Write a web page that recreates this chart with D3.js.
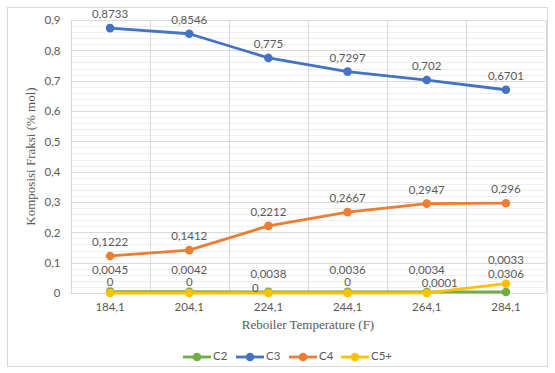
<!DOCTYPE html>
<html>
<head>
<meta charset="utf-8">
<script src="https://cdn.jsdelivr.net/npm/d3@7"></script>
<style>
  html, body { margin: 0; padding: 0; background: #fff; }
  svg { display: block; }
</style>
</head>
<body>
<svg id="chart" width="555" height="373"></svg>
<script>
// Reboiler temperature categories (F)
const temperatures = ["184,1", "204,1", "224,1", "244,1", "264,1", "284,1"];

// Fraction composition (mol fraction) per component
const seriesNames = ["C2", "C3", "C4", "C5+"];
const c2 = [0.0045, 0.0042, 0.0038, 0.0036, 0.0034, 0.0033];
const c3 = [0.8733, 0.8546, 0.775, 0.7297, 0.702, 0.6701];
const c4 = [0.1222, 0.1412, 0.2212, 0.2667, 0.2947, 0.296];
const c5p = [0, 0, 0, 0, 0.0001, 0.0306];

// Value axis ticks
const yTicks = [0, 0.1, 0.2, 0.3, 0.4, 0.5, 0.6, 0.7, 0.8, 0.9];

const colors = { "C2": "#70AD47", "C3": "#4472C4", "C4": "#ED7D31", "C5+": "#FFC000" };
const seriesData = { "C2": c2, "C3": c3, "C4": c4, "C5+": c5p };

// Label placement (dx, dy relative to the point), default per series with a few nudges
const labelDefaults = { "C2": [0, -21], "C3": [0, -13], "C4": [0, -13], "C5+": [0, -10] };
const labelNudges = {
  "C2": { 2: [0, -17], 5: [0, -31] },
  "C5+": { 2: [-13, -4], 4: [13, -9], 5: [0, -9] }
};

const fmt = v => String(+v.toFixed(4)).replace(".", ",");

const svg = d3.select("#chart");
const W = 555, H = 373;
const plot = { left: 70.5, right: 545.5, top: 20, bottom: 293 };

// Chart frame
svg.append("rect")
  .attr("x", 7.5).attr("y", 7.5)
  .attr("width", 540).attr("height", 359)
  .attr("fill", "#fff").attr("stroke", "#d9d9d9").attr("stroke-width", 1);

const x = d3.scaleBand().domain(temperatures).range([plot.left, plot.right]).padding(0);
const y = d3.scaleLinear().domain([0, 0.9]).range([plot.bottom, plot.top]);
const cx = t => x(t) + x.bandwidth() / 2;

const grid = svg.append("g");

// Minor horizontal gridlines
const minor = d3.range(0, 0.9001, 0.02).filter(v => Math.abs(v * 10 - Math.round(v * 10)) > 1e-6);
grid.selectAll("line.minor").data(minor).join("line")
  .attr("x1", plot.left).attr("x2", plot.right)
  .attr("y1", d => Math.round(y(d)) + 0.5).attr("y2", d => Math.round(y(d)) + 0.5)
  .attr("stroke", "#efefef").attr("stroke-width", 1);

// Major horizontal gridlines
grid.selectAll("line.major").data(yTicks).join("line")
  .attr("x1", plot.left).attr("x2", plot.right)
  .attr("y1", d => Math.round(y(d)) + 0.5).attr("y2", d => Math.round(y(d)) + 0.5)
  .attr("stroke", "#d9d9d9").attr("stroke-width", 1);

// Vertical gridlines at category boundaries
const bounds = temperatures.map(t => x(t)).concat([plot.right]);
grid.selectAll("line.vert").data(bounds).join("line")
  .attr("x1", d => Math.round(d) + 0.5).attr("x2", d => Math.round(d) + 0.5)
  .attr("y1", plot.top).attr("y2", plot.bottom)
  .attr("stroke", "#d9d9d9").attr("stroke-width", 1);

// Y axis labels
const yAxis = d3.axisLeft(y).tickValues(yTicks).tickFormat(fmt).tickSize(0).tickPadding(10);
svg.append("g").attr("transform", `translate(${plot.left},0)`).call(yAxis)
  .call(g => g.select(".domain").remove())
  .selectAll("text")
  .attr("font-family", "Lato, 'Open Sans', sans-serif").attr("font-size", 11.5)
  .attr("fill", "#595959");

// X axis labels
const xAxis = d3.axisBottom(x).tickSize(0).tickPadding(10);
svg.append("g").attr("transform", `translate(0,${plot.bottom})`).call(xAxis)
  .call(g => g.select(".domain").remove())
  .selectAll("text")
  .attr("font-family", "Lato, 'Open Sans', sans-serif").attr("font-size", 11.5)
  .attr("fill", "#595959");

// Axis titles
svg.append("text")
  .attr("x", 308).attr("y", 329)
  .attr("text-anchor", "middle")
  .attr("font-family", "'Liberation Serif', 'DejaVu Serif', serif").attr("font-size", 13)
  .attr("fill", "#595959")
  .text("Reboiler Temperature (F)");

svg.append("text")
  .attr("transform", `translate(35,${(plot.top + plot.bottom) / 2}) rotate(-90)`)
  .attr("text-anchor", "middle")
  .attr("font-family", "'Liberation Serif', 'DejaVu Serif', serif").attr("font-size", 13)
  .attr("fill", "#595959")
  .text("Komposisi Fraksi (% mol)");

// Series lines and markers
const line = d3.line().x((d, i) => cx(temperatures[i])).y(d => y(d));
seriesNames.forEach(name => {
  const vals = seriesData[name];
  const g = svg.append("g");
  g.append("path").datum(vals)
    .attr("d", line).attr("fill", "none")
    .attr("stroke", colors[name]).attr("stroke-width", 2.8)
    .attr("stroke-linejoin", "round").attr("stroke-linecap", "round");
  g.selectAll("circle").data(vals).join("circle")
    .attr("cx", (d, i) => cx(temperatures[i])).attr("cy", d => y(d))
    .attr("r", 4.3).attr("fill", colors[name]);
});

// Data labels
seriesNames.forEach(name => {
  const vals = seriesData[name];
  svg.append("g").selectAll("text").data(vals).join("text")
    .attr("x", (d, i) => cx(temperatures[i]) + ((labelNudges[name] || {})[i] || labelDefaults[name])[0])
    .attr("y", (d, i) => y(d) + ((labelNudges[name] || {})[i] || labelDefaults[name])[1])
    .attr("text-anchor", "middle").attr("dominant-baseline", "middle")
    .attr("font-family", "Lato, 'Open Sans', sans-serif").attr("font-size", 11.5)
    .attr("fill", "#595959")
    .text(d => fmt(d));
});

// Legend
const legendItems = [
  { name: "C2", x: 183 }, { name: "C3", x: 236 }, { name: "C4", x: 289 }, { name: "C5+", x: 341 }
];
const lg = svg.append("g").attr("transform", "translate(0,357)");
legendItems.forEach(it => {
  lg.append("line").attr("x1", it.x).attr("x2", it.x + 28).attr("y1", 0).attr("y2", 0)
    .attr("stroke", colors[it.name]).attr("stroke-width", 2.8);
  lg.append("circle").attr("cx", it.x + 14).attr("cy", 0).attr("r", 4.3).attr("fill", colors[it.name]);
  lg.append("text").attr("x", it.x + 30).attr("y", 0).attr("dominant-baseline", "middle")
    .attr("font-family", "Lato, 'Open Sans', sans-serif").attr("font-size", 11.5)
    .attr("fill", "#595959").text(it.name);
});
</script>
</body>
</html>
